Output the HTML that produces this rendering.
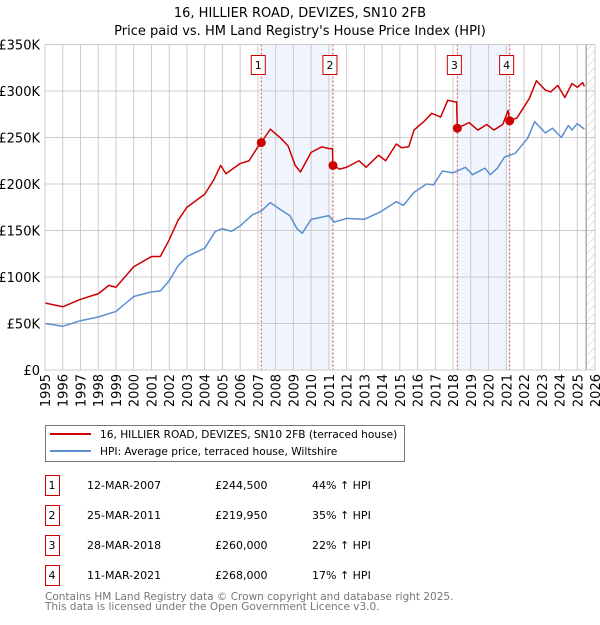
<!DOCTYPE html>
<html><head><meta charset="utf-8"><style>
body{margin:0;background:#fff;font-family:"Liberation Sans","DejaVu Sans",sans-serif;}
svg text{font-family:"DejaVu Sans","Liberation Sans",sans-serif;}
</style></head><body>
<svg id="c" width="600" height="620" xmlns="http://www.w3.org/2000/svg">
<defs><pattern id="hatch" width="6" height="6" patternUnits="userSpaceOnUse" patternTransform="rotate(45)"><line x1="0" y1="0" x2="0" y2="6" stroke="#bbb" stroke-width="0.8"/></pattern></defs>
<text x="300" y="17" text-anchor="middle" font-size="13">16, HILLIER ROAD, DEVIZES, SN10 2FB</text>
<text x="300" y="35" text-anchor="middle" font-size="13">Price paid vs. HM Land Registry's House Price Index (HPI)</text>
<g id="plot"></g>
<g>
<rect x="45.5" y="425.5" width="359" height="36" fill="#fff" stroke="#777"/>
<line x1="50" y1="434" x2="91" y2="434" stroke="#cc0000" stroke-width="2"/>
<text x="100" y="438" font-size="10.6">16, HILLIER ROAD, DEVIZES, SN10 2FB (terraced house)</text>
<line x1="50" y1="451" x2="91" y2="451" stroke="#5b8fd0" stroke-width="2"/>
<text x="100" y="455" font-size="10.6">HPI: Average price, terraced house, Wiltshire</text>
</g>
<g id="table"></g>
<text x="45" y="600" font-size="10.5" fill="#777">Contains HM Land Registry data © Crown copyright and database right 2025.</text>
<text x="45" y="610" font-size="10.5" fill="#777">This data is licensed under the Open Government Licence v3.0.</text>
</svg>
<script>
const hpiYears=[1995,1996,1997,1998,1999,2000,2001,2001.5,2002,2002.5,2003,2004,2004.6,2005,2005.5,2006,2006.7,2007.2,2007.7,2008.3,2008.8,2009.2,2009.5,2010,2011,2011.3,2012,2013,2013.9,2014.8,2015.2,2015.8,2016.5,2016.9,2017.4,2018,2018.7,2019.1,2019.8,2020.1,2020.5,2020.9,2021.5,2022.2,2022.6,2023.2,2023.6,2024.1,2024.5,2024.7,2025.0,2025.4];
const hpiValues=[50,47,53,57,63,79,84,85,96,112,122,131,149,152,149,155,167,171,180,172,166,152,147,162,166,159,163,162,170,181,177,191,200,199,214,212,218,210,217,210,217,229,233,249,267,255,260,250,263,258,265,259];
const priceYears=[1995,1996,1997,1998,1998.6,1999,2000,2001,2001.5,2002,2002.5,2003,2004,2004.5,2004.9,2005.2,2006,2006.5,2007,2007.19,2007.7,2008.3,2008.7,2009.1,2009.4,2010,2010.6,2011.0,2011.2,2011.23,2011.6,2012,2012.7,2013.1,2013.8,2014.2,2014.8,2015.1,2015.5,2015.8,2016.4,2016.8,2017.3,2017.7,2018.2,2018.24,2018.9,2019.4,2019.9,2020.3,2020.8,2021.1,2021.19,2021.6,2022.0,2022.3,2022.7,2023.2,2023.5,2023.9,2024.3,2024.7,2025.0,2025.3,2025.4];
const priceValues=[72,68,76,82,91,89,111,122,122,140,161,175,189,204,220,211,222,225,240,244.5,259,249,241,220,213,234,240,238,238,219.95,216,218,225,218,231,225,243,239,240,258,268,276,272,290,288,260,266,258,264,258,264,279,268,271,283,292,311,301,299,306,293,308,304,309,305];
const saleYears=[2007.19,2011.23,2018.24,2021.19];
const saleValues=[244.5,219.95,260,268];
const saleLabels=["1","2","3","4"];
const saleDates=["12-MAR-2007","25-MAR-2011","28-MAR-2018","11-MAR-2021"];
const salePrices=["£244,500","£219,950","£260,000","£268,000"];
const saleHpi=["44% ↑ HPI","35% ↑ HPI","22% ↑ HPI","17% ↑ HPI"];
const yTicks=[0,50,100,150,200,250,300,350];
const yTickLabels=["£0","£50K","£100K","£150K","£200K","£250K","£300K","£350K"];
const xTicks=[1995,1996,1997,1998,1999,2000,2001,2002,2003,2004,2005,2006,2007,2008,2009,2010,2011,2012,2013,2014,2015,2016,2017,2018,2019,2020,2021,2022,2023,2024,2025,2026];

const X0=45,X1=595,Y0=370,Y1=44.5;
const xs=y=>X0+(y-1995)/(2026-1995)*(X1-X0);
const ys=v=>Y0-v/350*(Y0-Y1);
const NS="http://www.w3.org/2000/svg";
const plot=document.getElementById('plot');
function mk(tag,attrs,parent){const e=document.createElementNS(NS,tag);for(const k in attrs)e.setAttribute(k,attrs[k]);(parent||plot).appendChild(e);return e;}

for(const [a,b] of [[0,1],[2,3]]){
  const r=mk('rect',{x:xs(saleYears[a]),y:Y1,width:xs(saleYears[b])-xs(saleYears[a]),height:Y0-Y1,fill:'#eef3fc',opacity:0.8});
  
  
}
const h=mk('rect',{x:xs(2025.5),y:Y1,width:X1-xs(2025.5),height:Y0-Y1,fill:'url(#hatch)'});


yTicks.forEach((t,i)=>{
  const l=mk('line',{x1:X0,x2:X1,y1:ys(t),y2:ys(t),stroke:'#ccc','stroke-width':1});
  
  
  const tx=mk('text',{x:40,y:ys(t)+5,'text-anchor':'end','font-size':13});
  tx.textContent=yTickLabels[i];
  
  
});
xTicks.forEach(t=>{
  const l=mk('line',{x1:xs(t),x2:xs(t),y1:Y1,y2:Y0,stroke:'#ccc','stroke-width':1});
  
  
  const tx=mk('text',{x:0,y:0,'text-anchor':'end','font-size':13,transform:`translate(${xs(t)+5},374) rotate(-90)`});
  tx.textContent=t;
  
  
});
const vl=mk('line',{x1:xs(2025.5),x2:xs(2025.5),y1:Y1,y2:Y0,stroke:'#888','stroke-width':1});


saleYears.forEach((y,i)=>{
  const l=mk('line',{x1:xs(y),x2:xs(y),y1:Y1,y2:Y0,stroke:'#e05050','stroke-width':1,'stroke-dasharray':'2,2'});
  
  
  const b=mk('rect',{x:xs(y)-10,y:55.5,width:14,height:19,fill:'#fff',stroke:'#cc0000'});
  
  
  const t=mk('text',{x:xs(y)-3,y:69,'text-anchor':'middle','font-size':11});
  t.textContent=saleLabels[i];
  
  
});
function line(xa,va,col,name){
  const p=mk('polyline',{points:xa.map((y,i)=>xs(y)+','+ys(va[i])).join(' '),fill:'none',stroke:col,'stroke-width':1.5,'stroke-linejoin':'round'});
  
  
}
line(hpiYears,hpiValues,'#5b8fd0','hpi-line');
line(priceYears,priceValues,'#cc0000','price-line');
saleYears.forEach((y,i)=>{
  const c=mk('circle',{cx:xs(y),cy:ys(saleValues[i]),r:4.5,fill:'#cc0000'});
  
  
});
const ax=mk('rect',{x:X0,y:Y1,width:X1-X0,height:Y0-Y1,fill:'none',stroke:'#ccc'});



const tb=document.getElementById('table');
saleLabels.forEach((s,i)=>{
  const yy=475+i*30;
  const r=mk('rect',{x:45.5,y:yy+0.5,width:14,height:20,fill:'#fff',stroke:'#cc0000'},tb);
  
  
  const cols=[[52,s,'middle'],[87,saleDates[i],'start'],[215,salePrices[i],'start'],[312,saleHpi[i],'start']];
  const names=['table-index','table-date','table-price','table-hpi-diff'];
  cols.forEach((c,j)=>{
    const t=mk('text',{x:c[0],y:yy+14,'font-size':11,'text-anchor':c[2]},tb);
    t.textContent=c[1];
    
    
  });
});
</script>
</body></html>
